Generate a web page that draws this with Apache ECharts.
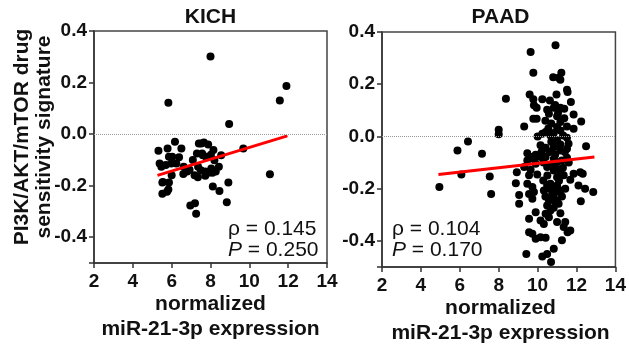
<!DOCTYPE html>
<html>
<head>
<meta charset="utf-8">
<script src="https://cdn.jsdelivr.net/npm/echarts@6/dist/echarts.min.js"></script>
<style>html,body{margin:0;padding:0;background:#fff}#c{width:629px;height:348px}</style>
</head>
<body>
<div id="c"></div>
<script>
// ---- data ----
var panelTitles = ['KICH', 'PAAD'];
var xTicks = [2, 4, 6, 8, 10, 12, 14];
var yTicks = [-0.4, -0.2, 0.0, 0.2, 0.4];
var yAxisTitle = ['PI3K/AKT/mTOR drug', 'sensitivity signature'];
var xAxisTitle = ['normalized', 'miR-21-3p expression'];

var kichX = [8.0,11.91,11.57,5.83,8.96,9.69,11.06,5.32,5.79,6.17,6.5,5.47,5.7,5.86,6.03,6.24,6.38,5.52,5.86,5.52,5.76,5.83,6.0,6.62,6.92,7.3,7.4,7.66,7.88,7.09,7.36,7.18,7.35,7.5,7.73,7.73,8.02,8.15,8.2,8.04,7.9,8.27,8.1,8.55,8.43,8.12,8.46,8.92,8.84,6.96,7.2,7.26,6.8,6.6,7.57,7.77,5.38,5.55,5.98,7.52,7.6,8.04];
var kichY = [0.301,0.187,0.13,0.122,0.039,-0.056,-0.156,-0.065,-0.056,-0.030,-0.056,-0.127,-0.12,-0.088,-0.088,-0.114,-0.09,-0.188,-0.188,-0.231,-0.224,-0.215,-0.16,-0.127,-0.138,-0.075,-0.036,-0.033,-0.04,-0.10,-0.127,-0.16,-0.167,-0.14,-0.145,-0.162,-0.08,-0.062,-0.101,-0.133,-0.15,-0.145,-0.15,-0.082,-0.127,-0.203,-0.221,-0.188,-0.264,-0.277,-0.268,-0.309,-0.145,-0.155,-0.075,-0.088,-0.114,-0.186,-0.114,-0.036,-0.082,-0.14];

var paadX = [4.95,5.88,6.42,6.08,7.14,7.54,7.61,8.0,8.0,8.37,9.31,10.92,9.64,9.78,11.22,10.8,11.08,11.17,9.59,10.97,11.51,11.54,9.78,10.24,10.63,11.71,9.81,9.95,10.49,10.83,11.17,11.37,11.85,9.78,9.95,10.58,11.0,11.37,11.17,12.24,11.0,11.17,11.51,11.85,10.24,10.41,10.66,10.83,11.31,11.51,11.0,11.17,11.59,10.83,10.15,10.41,12.49,11.17,11.51,9.47,9.68,9.81,10.15,10.41,9.47,9.9,10.83,11.0,11.25,11.51,8.93,9.31,9.64,9.98,9.56,10.49,10.83,11.17,11.0,11.34,11.85,12.19,12.32,11.68,8.88,9.47,9.73,9.81,10.29,10.49,10.32,10.66,10.83,11.0,11.17,11.25,11.0,10.83,10.58,11.42,12.1,12.44,12.86,9.05,9.05,9.56,9.73,12.22,10.49,10.66,10.83,11.08,11.17,10.41,10.58,9.56,9.9,10.15,10.32,11.0,11.42,11.34,11.68,11.54,11.25,9.56,9.73,9.9,10.15,10.41,9.42,10.83,10.49,10.24,10.69,10.6,10.9,10.7,10.95,10.3,10.5,11.1,10.75,10.9,10.6,10.4,11.05,10.7,10.9,10.55,11.05,10.4,10.7,11.3,10.2,9.9,11.4,10.0,11.6];
var paadY = [-0.194,-0.054,-0.019,-0.146,-0.066,-0.153,-0.220,0.026,0.008,0.144,0.038,0.349,0.323,0.244,0.244,0.227,0.225,0.217,0.161,0.161,0.179,0.170,0.142,0.142,0.138,0.132,0.119,0.110,0.102,0.110,0.110,0.106,0.084,0.068,0.068,0.087,0.077,0.070,0.055,0.057,0.036,0.023,0.038,0.029,0.010,0.017,0.004,0.013,0.004,-0.005,-0.015,-0.031,-0.028,-0.041,-0.034,-0.043,-0.038,-0.054,-0.047,-0.064,-0.079,-0.086,-0.079,-0.079,-0.092,-0.105,-0.086,-0.098,-0.092,-0.082,-0.137,-0.117,-0.128,-0.146,-0.149,-0.117,-0.130,-0.137,-0.156,-0.149,-0.143,-0.137,-0.143,-0.166,-0.179,-0.181,-0.194,-0.213,-0.169,-0.188,-0.207,-0.181,-0.200,-0.188,-0.207,-0.230,-0.245,-0.226,-0.245,-0.200,-0.188,-0.200,-0.213,-0.224,-0.258,-0.220,-0.239,-0.248,-0.264,-0.284,-0.273,-0.258,-0.294,-0.296,-0.309,-0.315,-0.290,-0.322,-0.335,-0.328,-0.328,-0.347,-0.360,-0.367,-0.398,-0.367,-0.373,-0.392,-0.386,-0.388,-0.450,-0.430,-0.450,-0.460,-0.481,-0.06,-0.07,-0.11,-0.12,-0.10,-0.15,-0.17,-0.22,-0.25,-0.20,-0.23,-0.21,0.05,0.12,0.03,0.09,0.06,-0.02,-0.12,-0.06,-0.07,-0.06,0.0,-0.10];

var kichFitX = [5.27, 11.96];
var kichFitY = [-0.160, -0.007];
var paadFitX = [4.90, 12.92];
var paadFitY = [-0.146, -0.079];

var statsRho = ['0.145', '0.104'];
var statsP = ['0.250', '0.170'];

// ---- helpers ----
function pairs(xs, ys) { return xs.map(function (v, i) { return [v, ys[i]]; }); }
var SANS = "'Liberation Sans', Arial, sans-serif";
var grids = [
  { left: 94, top: 31, width: 233, height: 232 },
  { left: 382, top: 32, width: 237, height: 235 }
];
function xAx(i) {
  return {
    gridIndex: i, type: 'value', min: xTicks[0], max: xTicks[xTicks.length - 1], interval: 2,
    axisLine: { show: true, onZero: false, lineStyle: { color: '#333', width: 1.5 } },
    axisTick: { show: true, length: 5, lineStyle: { color: '#333', width: 1.5 } },
    axisLabel: { margin: 9, fontFamily: SANS, fontWeight: 'bold', fontSize: 19, color: '#111' },
    splitLine: { show: false }
  };
}
function yAx(i) {
  return {
    gridIndex: i, type: 'value', min: -0.5, max: 0.4, interval: 0.1,
    axisLine: { show: true, onZero: false, lineStyle: { color: '#333', width: 1.5 } },
    axisTick: { show: true, length: 5, lineStyle: { color: '#333', width: 1.5 },
      customValues: yTicks.concat([-0.5]) },
    axisLabel: { margin: 7, fontFamily: SANS, fontWeight: 'bold', fontSize: 19, color: '#111',
      customValues: yTicks,
      formatter: function (v) { return v.toFixed(1); } },
    splitLine: { show: false }
  };
}
function scatter(i, data) {
  return {
    type: 'scatter', xAxisIndex: i, yAxisIndex: i, data: data, symbolSize: 8,
    itemStyle: { color: '#000', opacity: 1 }, z: 3,
    markLine: { silent: true, symbol: 'none', label: { show: false },
      lineStyle: { type: 'dotted', color: '#999', width: 1 }, data: [{ yAxis: 0 }] }
  };
}
function fit(i, data) {
  return { type: 'line', xAxisIndex: i, yAxisIndex: i, data: data, symbol: 'none',
    lineStyle: { color: '#ff0000', width: 3 }, z: 4 };
}
function txt(x, y, s, font, extra) {
  var st = { text: s, font: font, fill: '#111', textAlign: 'center', textVerticalAlign: 'middle' };
  for (var k in extra || {}) st[k] = extra[k];
  return { type: 'text', x: x, y: y, style: st, silent: true };
}
var boldTitle = "bold 21px " + SANS;
var graphics = [];
grids.forEach(function (g, i) {
  var cx = g.left + g.width / 2;
  graphics.push(txt(cx, 17, panelTitles[i], boldTitle));
  var by = g.top + g.height;
  graphics.push(txt(cx, by + 41, xAxisTitle[0], boldTitle));
  graphics.push(txt(cx, by + 66, xAxisTitle[1], boldTitle));
  graphics.push({ type: 'text', x: g.left + (i === 0 ? 134 : 10), y: 229, silent: true,
    style: { text: '\u03c1 = ' + statsRho[i], font: "21px " + SANS, fill: '#111', textVerticalAlign: 'middle' } });
  graphics.push({ type: 'text', x: g.left + (i === 0 ? 134 : 10), y: 250, silent: true,
    style: { text: '{i|P} = ' + statsP[i], font: "21px " + SANS, fill: '#111', textVerticalAlign: 'middle',
      rich: { i: { fontStyle: 'italic', fontSize: 21, fontFamily: SANS } } } });
});
graphics.push({ type: 'text', x: 22, y: 137, rotation: Math.PI / 2, silent: true,
  style: { text: yAxisTitle[0], font: boldTitle, fill: '#111', textAlign: 'center', textVerticalAlign: 'middle' } });
graphics.push({ type: 'text', x: 44, y: 137, rotation: Math.PI / 2, silent: true,
  style: { text: yAxisTitle[1], font: boldTitle, fill: '#111', textAlign: 'center', textVerticalAlign: 'middle' } });

var chart = echarts.init(document.getElementById('c'), null, { renderer: 'canvas' });
chart.setOption({
  animation: false,
  backgroundColor: '#fff',
  grid: grids.map(function (g) {
    return { left: g.left, top: g.top, width: g.width, height: g.height, show: true,
      borderColor: '#444', borderWidth: 1.5, backgroundColor: 'transparent' };
  }),
  xAxis: [xAx(0), xAx(1)],
  yAxis: [yAx(0), yAx(1)],
  series: [
    scatter(0, pairs(kichX, kichY)),
    fit(0, pairs(kichFitX, kichFitY)),
    scatter(1, pairs(paadX, paadY)),
    fit(1, pairs(paadFitX, paadFitY))
  ],
  graphic: graphics
});
</script>
</body>
</html>
